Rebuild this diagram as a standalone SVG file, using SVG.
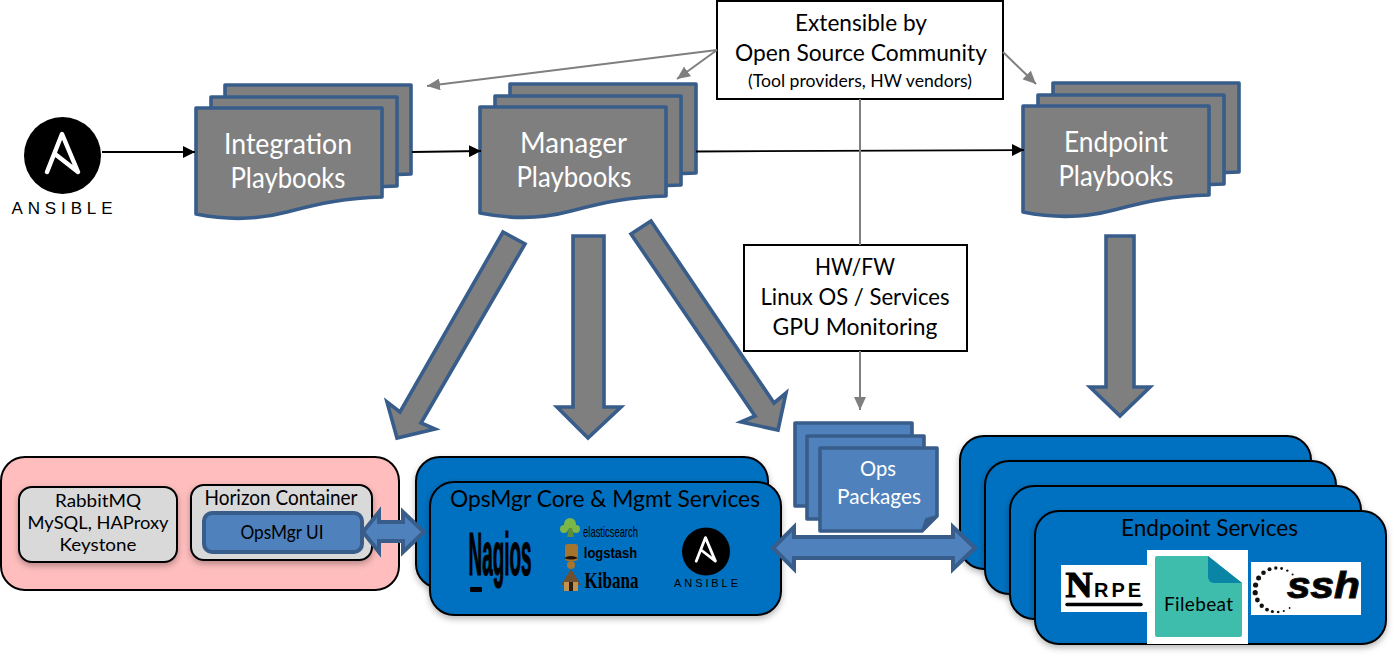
<svg xmlns="http://www.w3.org/2000/svg" xmlns:xlink="http://www.w3.org/1999/xlink" width="1394" height="656" viewBox="0 0 1394 656">
<style>
text{font-family:Lato,"Liberation Sans",sans-serif;text-anchor:middle;fill:#000}
.w{fill:#fff}
.pb{font-size:28px;fill:#fff}
.doc{fill:#7F7F7F;stroke:#385D8A;stroke-width:3.6;stroke-linejoin:round}
.blk{fill:#7F7F7F;stroke:#385D8A;stroke-width:3.6;stroke-linejoin:miter}
.dbl{fill:#4F81BD;stroke:#385D8A;stroke-width:4;stroke-linejoin:miter}
.pkg{fill:#4F81BD;stroke:#385D8A;stroke-width:3.6;stroke-linejoin:round}
.card{fill:#0070C0;stroke:#000;stroke-width:2;filter:url(#sh)}
.note{fill:#fff;stroke:#000;stroke-width:2}
.grey{fill:#D9D9D9;stroke:#000;stroke-width:2;filter:url(#sh)}
.gl{stroke:#7F7F7F;stroke-width:2;fill:none}
.bl{stroke:#000;stroke-width:1.8;fill:none}
.logo{font-family:"Liberation Sans",sans-serif}
</style>
<defs>
<filter id="sh" x="-10%" y="-10%" width="120%" height="125%"><feDropShadow dx="0" dy="3" stdDeviation="3" flood-color="#000" flood-opacity=".28"/></filter>
<path id="d" class="doc" d="M0,0H186V89C150,90 125,95 91,104C65,111 35,113 0,106Z"/>
<path id="a" fill="none" stroke="#fff" stroke-linejoin="round" stroke-linecap="round" d="M-15,18 L0,-20 L16,18 L-7,0"/>
<marker id="mb" viewBox="0 0 12 12" refX="12" refY="6" markerWidth="12" markerHeight="12" markerUnits="userSpaceOnUse" orient="auto"><path d="M0,0L12,6L0,12Z" fill="#000"/></marker>
<marker id="mg" viewBox="0 0 13 12" refX="13" refY="6" markerWidth="13" markerHeight="12" markerUnits="userSpaceOnUse" orient="auto"><path d="M0,0L13,6L0,12Z" fill="#7F7F7F"/></marker>
</defs>
<rect width="1394" height="656" fill="#fff"/>

<g id="ansible-main">
<circle cx="62.5" cy="155.5" r="38.500" fill="#000"/>
<use href="#a" transform="translate(62,154)" stroke-width="4.500"/>
<text x="62" y="214" class="logo" font-size="17" textLength="101" lengthAdjust="spacing">ANSIBLE</text>
</g>

<g id="integration-playbooks">
<use href="#d" x="225" y="85"/><use href="#d" x="211" y="97"/><use href="#d" x="196" y="108"/>
<text x="288" y="154" class="pb" textLength="128" lengthAdjust="spacingAndGlyphs">Integration</text>
<text x="288" y="188" class="pb" textLength="115" lengthAdjust="spacingAndGlyphs">Playbooks</text>
</g>
<g id="manager-playbooks">
<use href="#d" x="510" y="84"/><use href="#d" x="495" y="96"/><use href="#d" x="480" y="107"/>
<text x="573.500" y="153" class="pb" textLength="107" lengthAdjust="spacingAndGlyphs">Manager</text>
<text x="574" y="187" class="pb" textLength="115" lengthAdjust="spacingAndGlyphs">Playbooks</text>
</g>
<g id="endpoint-playbooks">
<use href="#d" x="1053" y="83"/><use href="#d" x="1038" y="95"/><use href="#d" x="1023" y="106"/>
<text x="1116" y="152" class="pb" textLength="104" lengthAdjust="spacingAndGlyphs">Endpoint</text>
<text x="1116" y="186" class="pb" textLength="115" lengthAdjust="spacingAndGlyphs">Playbooks</text>
</g>

<g id="community-note">
<rect class="note" x="717" y="1" width="286" height="98"/>
<text x="861" y="31" font-size="23" textLength="132" lengthAdjust="spacingAndGlyphs">Extensible by</text>
<text x="861" y="61" font-size="23" textLength="252" lengthAdjust="spacingAndGlyphs">Open Source Community</text>
<text x="860" y="87" font-size="17" textLength="224" lengthAdjust="spacingAndGlyphs">(Tool providers, HW vendors)</text>
</g>
<g id="monitoring-note">
<rect class="note" x="744" y="245" width="223" height="106"/>
<text x="855" y="275" font-size="23" textLength="80" lengthAdjust="spacingAndGlyphs">HW/FW</text>
<text x="855" y="305" font-size="23" textLength="189" lengthAdjust="spacingAndGlyphs">Linux OS / Services</text>
<text x="855" y="335" font-size="23" textLength="165" lengthAdjust="spacingAndGlyphs">GPU Monitoring</text>
</g>

<g id="horizon-host">
<rect x="1" y="457" width="398" height="133" rx="24" fill="#FFBDBD" stroke="#000" stroke-width="2"/>
<rect class="grey" x="19" y="487" width="158" height="75" rx="13"/>
<text x="98" y="507" font-size="18" textLength="86" lengthAdjust="spacingAndGlyphs">RabbitMQ</text>
<text x="98" y="529" font-size="18" textLength="141" lengthAdjust="spacingAndGlyphs">MySQL, HAProxy</text>
<text x="98" y="551" font-size="18" textLength="77" lengthAdjust="spacingAndGlyphs">Keystone</text>
<rect class="grey" x="191" y="485" width="181" height="75" rx="13"/>
<text x="281" y="505" font-size="21" textLength="153" lengthAdjust="spacingAndGlyphs">Horizon Container</text>
<rect x="204" y="513" width="158" height="39" rx="8" fill="#4F81BD" stroke="#385D8A" stroke-width="4"/>
<text x="282" y="539" font-size="19" textLength="83" lengthAdjust="spacingAndGlyphs" fill="#0b1a2b">OpsMgr UI</text>
</g>

<g id="opsmgr-core">
<rect class="card" x="416" y="457" width="352" height="131" rx="24"/>
<rect class="card" x="430" y="482" width="351" height="133" rx="24"/>
<text x="605" y="507" font-size="24" textLength="310" lengthAdjust="spacingAndGlyphs">OpsMgr Core &amp; Mgmt Services</text>
<text transform="translate(500,575) scale(.727,2.380)" class="logo" font-size="26" font-weight="700" stroke="#000" stroke-width=".5">Nagios</text>
<rect x="470" y="587" width="12" height="5" rx="1" fill="#000"/>
<g fill="#7AB648"><circle cx="570" cy="524" r="6"/><circle cx="564" cy="529" r="4"/><circle cx="576" cy="529" r="4"/><path d="M569,528h3l2,9h-7z" fill="#5F8F35"/></g>
<text transform="translate(610.500,537) scale(1,1.500)" class="logo" font-size="9.400" fill="#86BE45">elasticsearch</text>
<rect x="565" y="544" width="13" height="17" rx="3" fill="#A5742E"/><path d="M564,558q7,-4 14,0q-7,3 -14,0Z" fill="#1d1208"/><circle cx="571" cy="565" r="4" fill="#A5742E"/>
<text transform="translate(610.500,558) scale(1,1.150)" class="logo" font-size="13" font-weight="700">logstash</text>
<path d="M561,585L571,569L581,585Z" fill="#6E4F30"/><rect x="564" y="582" width="14" height="9" fill="#C2924E"/><rect x="569" y="582" width="4" height="9" fill="#2B1C0F"/>
<text transform="translate(611.500,588) scale(1,1.410)" font-size="17" font-weight="700" fill="#5B4A44" style="font-family:'Liberation Serif',serif">Kibana</text>
<circle cx="706" cy="551.500" r="24" fill="#000"/>
<use href="#a" transform="translate(705.500,550) scale(.62)" stroke-width="4.500"/>
<text x="706" y="587" class="logo" font-size="11" textLength="64" lengthAdjust="spacing">ANSIBLE</text>
</g>

<g id="ops-packages">
<rect class="pkg" x="795" y="423" width="117" height="83"/>
<rect class="pkg" x="807" y="436" width="117" height="83"/>
<path class="pkg" d="M820,448H937V516L922,531H820Z"/>
<path d="M922,531L926,519L937,516Z" fill="#385D8A" stroke="#385D8A" stroke-width="2" stroke-linejoin="round"/>
<text x="878" y="476" class="w" font-size="22" textLength="36" lengthAdjust="spacingAndGlyphs">Ops</text>
<text x="879" y="504" class="w" font-size="22" textLength="84" lengthAdjust="spacingAndGlyphs">Packages</text>
</g>

<g id="endpoint-services">
<rect class="card" x="960" y="436" width="351" height="133" rx="24"/>
<rect class="card" x="985" y="461" width="351" height="133" rx="24"/>
<rect class="card" x="1010" y="486" width="351" height="133" rx="24"/>
<rect class="card" x="1035" y="511" width="351" height="133" rx="24"/>
<text x="1209.500" y="536" font-size="24" textLength="177" lengthAdjust="spacingAndGlyphs">Endpoint Services</text>
<rect x="1061" y="565" width="86" height="47" fill="#fff"/>
<text x="1079" y="597" font-size="35" font-weight="700" textLength="27" lengthAdjust="spacingAndGlyphs" stroke="#000" stroke-width="1.200" style="font-family:'Liberation Serif',serif">N</text>
<text x="1117.500" y="597" class="logo" font-size="20" font-weight="700" textLength="47" lengthAdjust="spacing">RPE</text>
<path d="M1067,604.500H1141" stroke="#000" stroke-width="3.500" stroke-linecap="round"/>
<rect x="1147" y="550" width="101" height="94" fill="#fff"/>
<path d="M1157,556H1208L1242,583V635a2,2 0 0 1-2,2H1157a2,2 0 0 1-2,-2V558a2,2 0 0 1 2,-2Z" fill="#3EBDAD"/>
<path d="M1208,556L1242,583H1214a6,6 0 0 1-6,-6Z" fill="#0A85A6"/>
<text x="1198.500" y="611" font-size="19" textLength="69" lengthAdjust="spacing" fill="#DDF3EF">Filebeat</text>
<rect x="1251" y="562" width="110" height="53" fill="#fff"/>
<g fill="#111"><circle cx="1292.600" cy="574.400" r="1"/><circle cx="1287.300" cy="570.600" r="1.200"/><circle cx="1281.600" cy="568.500" r="1.400"/><circle cx="1275.800" cy="568" r="1.700"/><circle cx="1269.500" cy="569.300" r="2"/><circle cx="1263.500" cy="572.700" r="2.300"/><circle cx="1258.600" cy="578" r="2.500"/><circle cx="1255.600" cy="585" r="2.600"/><circle cx="1255.200" cy="592.700" r="2.600"/><circle cx="1257.400" cy="600" r="2.400"/><circle cx="1261.700" cy="605.800" r="2.200"/><circle cx="1267" cy="609.600" r="1.900"/><circle cx="1272.400" cy="611.500" r="1.600"/><circle cx="1278.200" cy="612" r="1.300"/><circle cx="1283.800" cy="611" r="1.100"/><circle cx="1289.600" cy="608" r=".9"/></g>
<text x="1323.500" y="598" class="logo" font-size="36" font-weight="700" font-style="italic" textLength="73" lengthAdjust="spacingAndGlyphs" stroke="#111" stroke-width="1">ssh</text>
</g>

<g id="connectors">
<path class="bl" d="M102,152H195" marker-end="url(#mb)"/>
<path class="bl" d="M412,152L481,151" marker-end="url(#mb)"/>
<path class="bl" d="M696,151.500L1024,150" marker-end="url(#mb)"/>
<path class="gl" d="M717,50L427,86" marker-end="url(#mg)"/>
<path class="gl" d="M717,50L677,79" marker-end="url(#mg)"/>
<path class="gl" d="M1003,52L1036,84" marker-end="url(#mg)"/>
<path class="gl" d="M860,99V245"/>
<path class="gl" d="M860,351V410" marker-end="url(#mg)"/>
<path class="blk" d="M503,232L525,244L421,423L435,429L397,438L387,402L400,412Z"/>
<path class="blk" d="M573,236H604V407H621L588,438L557,407H573Z"/>
<path class="blk" d="M631,234L651,221L774,403L786,393L778,430L741,422L755,416Z"/>
<path class="blk" d="M1106,236H1134V387H1150L1120,416L1090,387H1106Z"/>
<path class="dbl" d="M363,532L379,512V522H403V512L424,532L403,552V541H379V552Z"/>
<path class="dbl" d="M773,548L794,527V537H953V527L975,548L953,569V558H794V569Z"/>
</g>
</svg>
